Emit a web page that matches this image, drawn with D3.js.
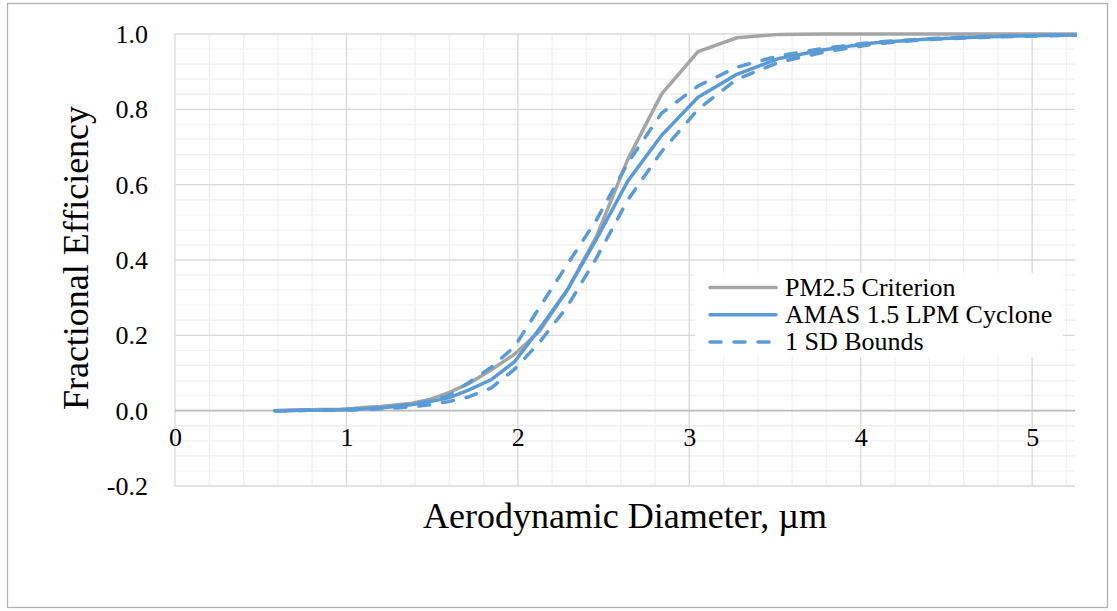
<!DOCTYPE html>
<html>
<head>
<meta charset="utf-8">
<script src="https://cdn.jsdelivr.net/npm/d3@7"></script>
<style>
    body { margin: 0; background: #fff; }
</style>
</head>
<body>
<svg width="1117" height="611"></svg>
<script>
// aerodynamic diameter (um) at each measured channel
const diameters = [0.583, 0.626, 0.673, 0.723, 0.777, 0.835, 0.898, 0.965, 1.037, 1.114,
    1.197, 1.286, 1.382, 1.486, 1.596, 1.715, 1.843, 1.981, 2.129, 2.288,
    2.458, 2.642, 2.839, 3.051, 3.278, 3.523, 3.786, 4.068, 4.371, 4.698,
    5.048, 5.425];

const pm25 = [0.000, 0.001, 0.002, 0.002, 0.002, 0.003, 0.003, 0.004, 0.006, 0.009,
    0.011, 0.015, 0.020, 0.030, 0.048, 0.072, 0.108, 0.150, 0.212, 0.320,
    0.462, 0.668, 0.841, 0.953, 0.990, 0.999, 1.000, 1.000, 1.000, 1.000,
    1.000, 1.000];

const amas = [0.000, 0.000, 0.000, 0.001, 0.001, 0.001, 0.002, 0.002, 0.003, 0.005,
    0.007, 0.011, 0.016, 0.024, 0.034, 0.055, 0.082, 0.130, 0.219, 0.320,
    0.455, 0.610, 0.731, 0.832, 0.893, 0.935, 0.958, 0.976, 0.986, 0.992,
    0.996, 0.998];

const sdUpper = [0.000, 0.000, 0.000, 0.001, 0.001, 0.002, 0.002, 0.003, 0.004, 0.006,
    0.008, 0.012, 0.018, 0.026, 0.040, 0.075, 0.115, 0.170, 0.276, 0.388,
    0.506, 0.658, 0.790, 0.862, 0.912, 0.942, 0.962, 0.978, 0.987, 0.993,
    0.996, 0.999];

const sdLower = [0.000, 0.000, 0.000, 0.000, 0.001, 0.001, 0.001, 0.002, 0.002, 0.003,
    0.005, 0.007, 0.010, 0.016, 0.024, 0.037, 0.060, 0.110, 0.183, 0.276,
    0.405, 0.560, 0.688, 0.800, 0.880, 0.925, 0.952, 0.973, 0.985, 0.991,
    0.995, 0.998];

const xTicks = [0, 1, 2, 3, 4, 5];
const yTicks = [-0.2, 0, 0.2, 0.4, 0.6, 0.8, 1.0];
const legendLabels = ["PM2.5 Criterion", "AMAS 1.5 LPM Cyclone", "1 SD Bounds"];

const blue = "#5b9bd5", grey = "#a5a5a5";
const serif = "'Liberation Serif', 'Times New Roman', serif";

const svg = d3.select("svg");

// outer chart frame
svg.append("rect")
    .attr("x", 7.5).attr("y", 3.5)
    .attr("width", 1100).attr("height", 604)
    .attr("fill", "#fff")
    .attr("stroke", "#b0b0b0")
    .attr("stroke-width", 1.3);

const x = d3.scaleLinear().domain([0, 5.25]).range([175, 1075]);
const y = d3.scaleLinear().domain([-0.2, 1.0]).range([486, 34]);

// minor grid
const minorX = d3.range(0, 5.25 + 1e-9, 0.2).filter(v => Math.abs(v - Math.round(v)) > 1e-6);
const minorY = d3.range(-0.2, 1.0 + 1e-9, 0.04).filter(v => Math.abs(v * 5 - Math.round(v * 5)) > 1e-6);

const grid = svg.append("g").attr("class", "grid");
grid.selectAll(".mx").data(minorX).enter().append("line")
    .attr("x1", d => x(d)).attr("x2", d => x(d))
    .attr("y1", y(1.0)).attr("y2", y(-0.2))
    .attr("stroke", "#f0f0f0").attr("stroke-width", 1.3);
grid.selectAll(".my").data(minorY).enter().append("line")
    .attr("x1", x(0)).attr("x2", x(5.25))
    .attr("y1", d => y(d)).attr("y2", d => y(d))
    .attr("stroke", "#f0f0f0").attr("stroke-width", 1.3);

// major grid
grid.selectAll(".Mx").data(xTicks).enter().append("line")
    .attr("x1", d => x(d)).attr("x2", d => x(d))
    .attr("y1", y(1.0)).attr("y2", y(-0.2))
    .attr("stroke", "#d9d9d9").attr("stroke-width", 1.3);
grid.selectAll(".My").data(yTicks).enter().append("line")
    .attr("x1", x(0)).attr("x2", x(5.25))
    .attr("y1", d => y(d)).attr("y2", d => y(d))
    .attr("stroke", d => d === 0 ? "#bcbcbc" : "#d9d9d9")
    .attr("stroke-width", d => d === 0 ? 1.6 : 1.3);

// axes (labels only, the lines come from the grid)
const fmtY = d => d3.format(".1f")(d).replace("\u2212", "-");
const yAxis = svg.append("g")
    .attr("transform", `translate(${x(0)},0)`)
    .call(d3.axisLeft(y).tickValues(yTicks).tickFormat(fmtY).tickSize(0).tickPadding(27));
const xAxis = svg.append("g")
    .attr("transform", `translate(0,${y(0)})`)
    .call(d3.axisBottom(x).tickValues(xTicks).tickFormat(d3.format("d")).tickSize(0).tickPadding(24));
[yAxis, xAxis].forEach(a => {
    a.select(".domain").remove();
    a.attr("font-family", null).attr("font-size", null);
    a.selectAll("text")
        .style("font-family", serif)
        .style("font-size", "26px")
        .attr("fill", "#000");
});
yAxis.selectAll("text").attr("dy", "0.33em");
xAxis.selectAll("text").attr("dy", "0.45em");

// axis titles
svg.append("text")
    .attr("transform", "translate(88,258) rotate(-90)")
    .attr("text-anchor", "middle")
    .style("font-family", serif)
    .style("font-size", "36px")
    .text("Fractional Efficiency");
svg.append("text")
    .attr("x", 625).attr("y", 528)
    .attr("text-anchor", "middle")
    .style("font-family", serif)
    .style("font-size", "36px")
    .text("Aerodynamic Diameter, \u00b5m");

// series
svg.append("clipPath").attr("id", "plotClip")
    .append("rect").attr("x", x(0)).attr("y", 20)
    .attr("width", x(5.25) - x(0) + 2).attr("height", y(-0.2) - 20);

const line = d3.line()
    .x((d, i) => x(diameters[i]))
    .y(d => y(d));

const series = [
    { values: pm25, color: grey, dash: null },
    { values: amas, color: blue, dash: null },
    { values: sdUpper, color: blue, dash: "11,13" },
    { values: sdLower, color: blue, dash: "11,13" }
];

svg.append("g").attr("clip-path", "url(#plotClip)")
    .selectAll("path").data(series).enter().append("path")
    .attr("d", d => line(d.values))
    .attr("fill", "none")
    .attr("stroke", d => d.color)
    .attr("stroke-width", 3.5)
    .attr("stroke-linejoin", "round")
    .attr("stroke-linecap", "round")
    .attr("stroke-dasharray", d => d.dash);

// legend
const legend = svg.append("g");
legend.append("rect")
    .attr("x", 695).attr("y", 273)
    .attr("width", 368).attr("height", 84)
    .attr("fill", "#fff");

const legendStyle = [
    { color: grey, dash: null },
    { color: blue, dash: null },
    { color: blue, dash: "11,13" }
];
const rowY = d3.scalePoint().domain(legendLabels).range([287.5, 342]);

legendLabels.forEach((label, i) => {
    legend.append("line")
        .attr("x1", 710).attr("x2", 776)
        .attr("y1", rowY(label)).attr("y2", rowY(label))
        .attr("stroke", legendStyle[i].color)
        .attr("stroke-width", 3.5)
        .attr("stroke-linecap", "round")
        .attr("stroke-dasharray", legendStyle[i].dash);
    legend.append("text")
        .attr("x", 785).attr("y", rowY(label) + 8)
        .style("font-family", serif)
        .style("font-size", "26px")
        .text(label);
});
</script>
</body>
</html>
